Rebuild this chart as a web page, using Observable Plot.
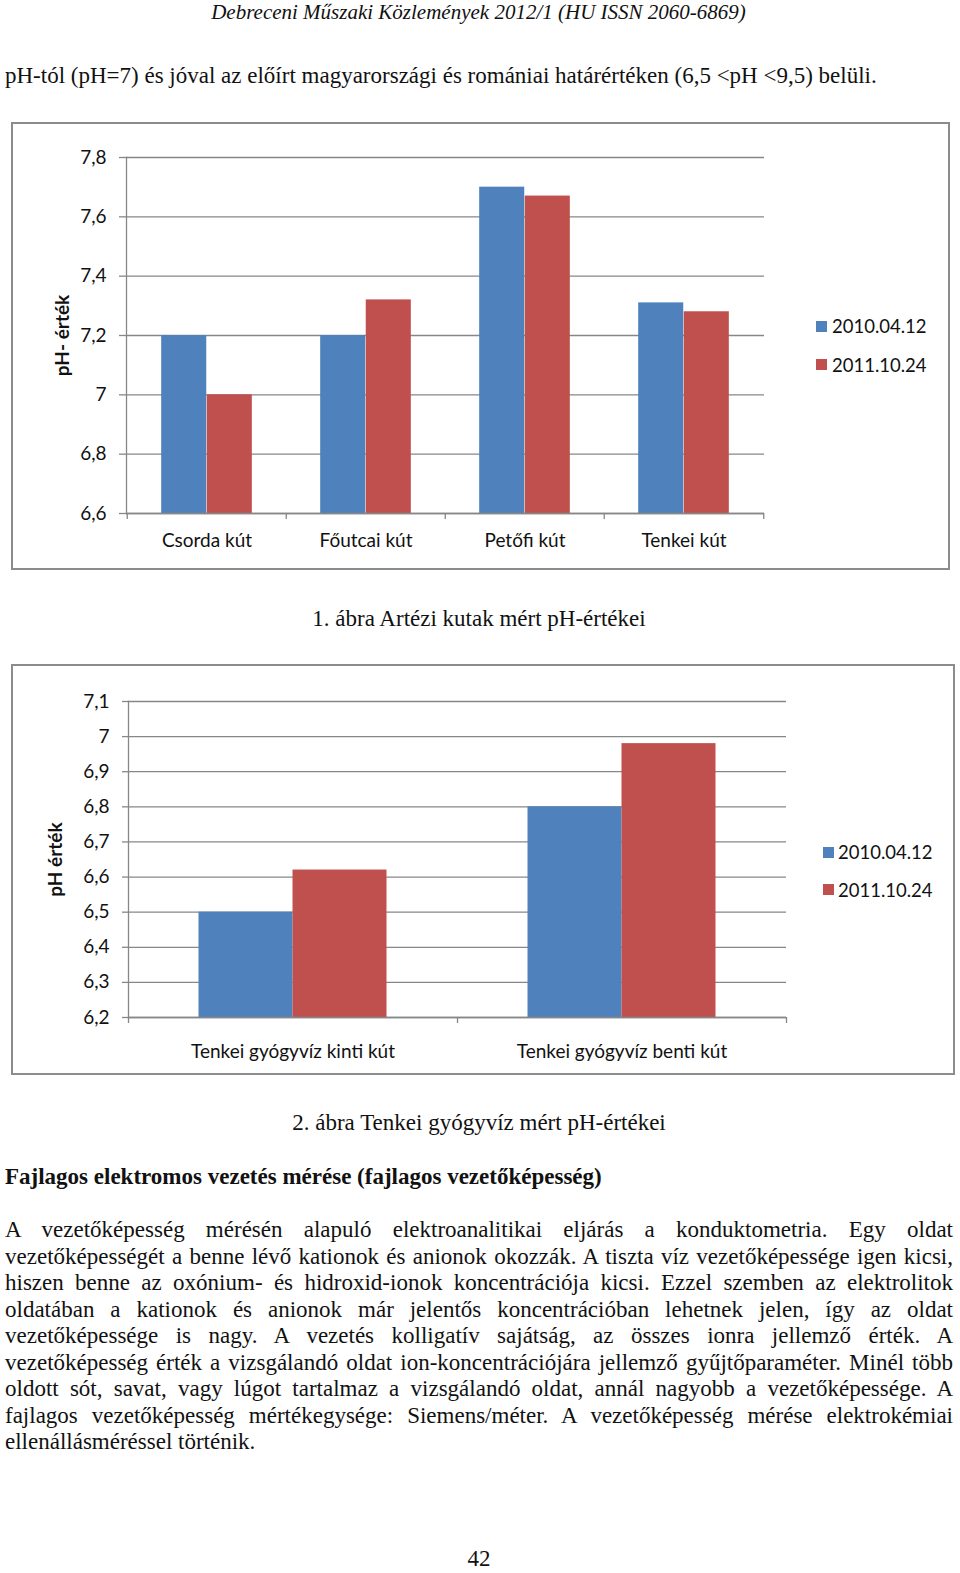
<!DOCTYPE html>
<html>
<head>
<meta charset="utf-8">
<script src="https://cdn.jsdelivr.net/npm/d3@7"></script>
<script src="https://cdn.jsdelivr.net/npm/@observablehq/plot@0.6"></script>
<style>
  html, body { margin: 0; padding: 0; background: #fff; }
  #page { position: relative; width: 960px; height: 1573px; overflow: hidden; font-family: "Liberation Serif", "Times New Roman", serif; color: #111; }
  .abs { position: absolute; }
  .serif { font-family: "Liberation Serif", serif; font-size: 23px; white-space: nowrap; }
  .frame { position: absolute; border: 2px solid #8c8c8c; box-sizing: border-box; }
  .legend { position: absolute; font-family: Lato, sans-serif; font-size: 18.5px; color: #111; white-space: nowrap; }
  .legend .sw { position: absolute; width: 11px; height: 11px; }
  .legend .lb { position: absolute; line-height: 20px; }
  .para div { height: 26.5px; line-height: 26.5px; text-align: justify; text-align-last: justify; white-space: nowrap; }
  .para div.last { text-align-last: left; }
</style>
</head>
<body>
<div id="page">
  <div class="abs serif" style="left:0;width:957px;top:0px;text-align:center;font-style:italic;font-size:21px;line-height:24px;">Debreceni Műszaki Közlemények 2012/1 (HU ISSN 2060-6869)</div>
  <div class="abs serif" style="left:5px;top:63px;line-height:26px;">pH-tól (pH=7) és jóval az előírt magyarországi és romániai határértéken (6,5 &lt;pH &lt;9,5) belüli.</div>

  <div class="frame" style="left:11px;top:122px;width:939px;height:448px;"></div>
  <div id="chart1" class="abs" style="left:0;top:123px;"></div>
  <div id="legend1" class="legend" style="left:0;top:0;"></div>
  <div class="abs serif" style="left:0;width:958px;top:606px;line-height:26px;text-align:center;">1. ábra Artézi kutak mért pH-értékei</div>

  <div class="frame" style="left:11px;top:664px;width:944px;height:411px;"></div>
  <div id="chart2" class="abs" style="left:0;top:665px;"></div>
  <div id="legend2" class="legend" style="left:0;top:0;"></div>
  <div class="abs serif" style="left:0;width:958px;top:1110px;line-height:26px;text-align:center;">2. ábra Tenkei gyógyvíz mért pH-értékei</div>

  <div class="abs serif" style="left:5px;top:1164px;line-height:26px;font-weight:bold;">Fajlagos elektromos vezetés mérése (fajlagos vezetőképesség)</div>

  <div class="abs serif para" style="left:5px;top:1217px;width:948px;">
    <div>A vezetőképesség mérésén alapuló elektroanalitikai eljárás a konduktometria. Egy oldat</div>
    <div>vezetőképességét a benne lévő kationok és anionok okozzák. A tiszta víz vezetőképessége igen kicsi,</div>
    <div>hiszen benne az oxónium- és hidroxid-ionok koncentrációja kicsi. Ezzel szemben az elektrolitok</div>
    <div>oldatában a kationok és anionok már jelentős koncentrációban lehetnek jelen, így az oldat</div>
    <div>vezetőképessége is nagy. A vezetés kolligatív sajátság, az összes ionra jellemző érték. A</div>
    <div>vezetőképesség érték a vizsgálandó oldat ion-koncentrációjára jellemző gyűjtőparaméter. Minél több</div>
    <div>oldott sót, savat, vagy lúgot tartalmaz a vizsgálandó oldat, annál nagyobb a vezetőképessége. A</div>
    <div>fajlagos vezetőképesség mértékegysége: Siemens/méter. A vezetőképesség mérése elektrokémiai</div>
    <div class="last">ellenállásméréssel történik.</div>
  </div>

  <div class="abs serif" style="left:0;width:958px;top:1546px;line-height:26px;text-align:center;">42</div>
</div>

<script>
// ---------- data ----------
const series = ["2010.04.12", "2011.10.24"];
const seriesColors = ["#4F81BD", "#C0504D"];

const categories1 = ["Csorda kút", "Főutcai kút", "Petőfi kút", "Tenkei kút"];
const ph2010_chart1 = [7.20, 7.20, 7.70, 7.31];
const ph2011_chart1 = [7.00, 7.32, 7.67, 7.28];
const yTicks1 = [6.6, 6.8, 7, 7.2, 7.4, 7.6, 7.8];
const yTitle1 = "pH- érték";

const categories2 = ["Tenkei gyógyvíz kinti kút", "Tenkei gyógyvíz benti kút"];
const ph2010_chart2 = [6.50, 6.80];
const ph2011_chart2 = [6.62, 6.98];
const yTicks2 = [6.2, 6.3, 6.4, 6.5, 6.6, 6.7, 6.8, 6.9, 7, 7.1];
const yTitle2 = "pH érték";

// ---------- chart builder ----------
const gray = "#878787";
const fmt = d => String(d).replace(".", ",");

function makeChart(cfg) {
  const {categories, values, yTicks, title, width, height, ml, mr, mt, mb,
         titleDx, xLabelPad, yTickSize, yTickPad} = cfg;
  const rows = categories.flatMap((c, i) =>
    series.map((s, j) => ({cat: c, series: s, value: values[j][i]})));
  const yMin = d3.min(yTicks), yMax = d3.max(yTicks);
  const bw = (width - ml - mr) / categories.length; // band width
  const barW = bw / 3.5;                              // Excel gap width 150%
  const outer = 0.75 * barW;
  const tickStyle = {x: d => d, y1: yMin, y2: yMin, insetBottom: -6, stroke: gray, strokeWidth: 1.3};
  return Plot.plot({
    width, height,
    marginLeft: ml, marginRight: mr, marginTop: mt, marginBottom: mb,
    style: {fontFamily: "Lato, sans-serif", fontSize: "19px", color: "#111", background: "transparent", overflow: "visible"},
    x: {domain: categories, padding: 0, label: null},
    y: {domain: [yMin, yMax], label: null},
    marks: [
      Plot.gridY(yTicks, {stroke: gray, strokeOpacity: 1, strokeWidth: 1.3}),
      Plot.barY(rows.filter(d => d.series === series[0]),
        {x: "cat", y1: yMin, y2: "value", fill: seriesColors[0], insetLeft: outer, insetRight: bw / 2}),
      Plot.barY(rows.filter(d => d.series === series[1]),
        {x: "cat", y1: yMin, y2: "value", fill: seriesColors[1], insetLeft: bw / 2, insetRight: outer}),
      Plot.ruleY([yMin], {stroke: gray, strokeWidth: 1.3}),
      Plot.frame({anchor: "left", stroke: gray, strokeWidth: 1.3}),
      Plot.ruleX(categories, {...tickStyle, dx: -bw / 2}),
      Plot.ruleX(categories.slice(-1), {...tickStyle, dx: bw / 2}),
      Plot.axisY(yTicks, {tickSize: yTickSize, tickPadding: yTickPad, tickFormat: fmt, stroke: gray, strokeWidth: 1.3, fill: "#111", label: null}),
      Plot.axisX({tickSize: 0, tickPadding: xLabelPad, fill: "#111", label: null}),
      Plot.text([title], {frameAnchor: "left", textAnchor: "middle", rotate: -90, dx: titleDx, fontWeight: "bold", fontSize: 19, fill: "#111"})
    ]
  });
}

function makeLegend(el, cfg) {
  series.forEach((s, i) => {
    const sw = document.createElement("div");
    sw.className = "sw";
    sw.style.left = cfg.sx + "px";
    sw.style.top = (cfg.sy[i]) + "px";
    sw.style.background = seriesColors[i];
    el.appendChild(sw);
    const lb = document.createElement("div");
    lb.className = "lb";
    lb.style.left = cfg.tx + "px";
    lb.style.top = (cfg.ty[i]) + "px";
    lb.textContent = s;
    el.appendChild(lb);
  });
}

document.getElementById("chart1").appendChild(makeChart({
  categories: categories1, values: [ph2010_chart1, ph2011_chart1], yTicks: yTicks1, title: yTitle1,
  width: 780, height: 447, ml: 126, mr: 16, mt: 34, mb: 57,
  titleDx: -64, xLabelPad: 20, yTickSize: 7, yTickPad: 13
}));
makeLegend(document.getElementById("legend1"), {sx: 816, sy: [321, 359], tx: 832, ty: [316, 355]});

document.getElementById("chart2").appendChild(makeChart({
  categories: categories2, values: [ph2010_chart2, ph2011_chart2], yTicks: yTicks2, title: yTitle2,
  width: 800, height: 410, ml: 128, mr: 14, mt: 36, mb: 58,
  titleDx: -73, xLabelPad: 27, yTickSize: 6, yTickPad: 13
}));
makeLegend(document.getElementById("legend2"), {sx: 823, sy: [847, 884], tx: 838, ty: [842, 880]});
</script>
</body>
</html>
